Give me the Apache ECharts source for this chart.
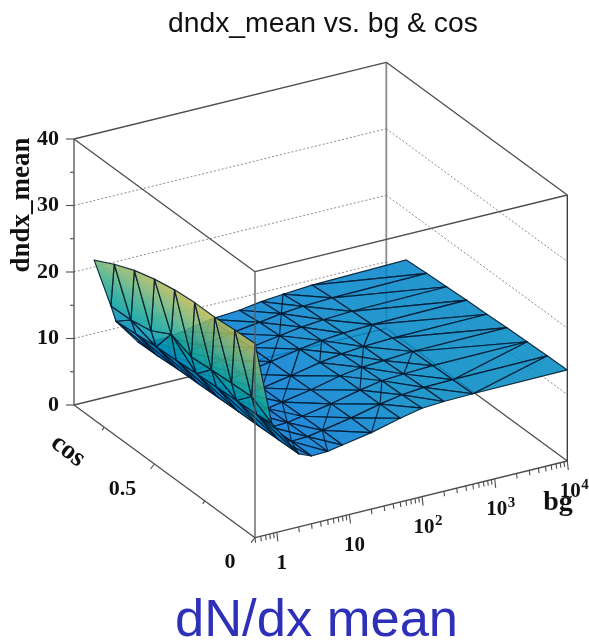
<!DOCTYPE html>
<html>
<head>
<meta charset="utf-8">
<style>html,body{margin:0;padding:0;background:#fff}#c{width:589px;height:643px}</style>
<script src="https://cdn.jsdelivr.net/npm/echarts@6/dist/echarts.min.js"></script>
</head>
<body>
<div id="c"></div>
<script>
const bgValues = [0.5, 0.85, 1, 2, 3, 5, 8, 20, 50, 100, 200, 500, 10000];
const cosValues = [0, 0.1, 0.2, 0.3, 0.4, 0.5, 0.6, 0.7, 0.8];
const dndxRow0 = [29.2, 16.6, 15.5, 11.0, 10.2, 10.3, 10.7, 11.5, 12.6, 13.3, 13.5, 13.6, 13.7];
const dndxRow1 = [29.0, 18.4, 15.5, 10.9, 10.2, 10.3, 10.7, 11.5, 12.5, 13.1, 13.4, 13.5, 13.6];
const dndxRow2 = [28.7, 18.2, 15.4, 10.8, 10.1, 10.2, 10.6, 11.4, 12.4, 13.0, 13.2, 13.4, 13.5];
const dndxRow3 = [28.7, 18.0, 15.2, 10.7, 10.0, 10.1, 10.5, 11.3, 12.3, 12.8, 13.0, 13.3, 13.4];
const dndxRow4 = [28.4, 17.7, 15.0, 10.6, 9.9, 10.0, 10.4, 11.2, 12.1, 12.6, 12.9, 13.1, 13.2];
const dndxRow5 = [27.8, 18.9, 14.8, 10.5, 9.8, 9.9, 10.3, 11.1, 11.9, 12.4, 12.7, 12.9, 13.1];
const dndxRow6 = [26.9, 17.2, 14.6, 10.4, 9.7, 9.8, 10.2, 11.0, 11.7, 12.2, 12.5, 12.7, 12.9];
const dndxRow7 = [25.6, 16.6, 14.3, 10.2, 9.6, 9.7, 10.1, 10.9, 11.5, 12.0, 12.3, 12.5, 12.7];
const dndxRow8 = [24.0, 16.5, 14.0, 10.1, 9.6, 9.7, 10.0, 10.8, 11.1, 11.6, 11.9, 12.2, 12.5];
const dndx = [dndxRow0, dndxRow1, dndxRow2, dndxRow3, dndxRow4, dndxRow5, dndxRow6, dndxRow7, dndxRow8];
// Triangulation: one string per cos row, one letter per bg cell (x = both diagonals drawn)
const cellSplit = [
  'aabxbxbxbbba',
  'aabbxbxbxbba',
  'abbxbxbbxbxb',
  'aabbxbxbbxbb',
  'abbxbbxaxbab',
  'aabbxxbxbbbb',
  'abbxbxbbxbbb',
  'aabbxbxbbxbb'
];
const zMajorTicks = [0, 10, 20, 30, 40];
const zMinorTicks = [5, 15, 25, 35];
const zGridValues = [10, 20, 30];
const cosMajorTicks = [0, 0.5];
const cosMinorTicks = [0.25, 0.75];
const cosTickLabels = ['0', '0.5'];
const bgMajorTicks = [1, 10, 100, 1000, 10000];
const bgMinorTicks = [0.5, 0.6, 0.7, 0.8, 0.9, 2, 3, 4, 5, 6, 7, 8, 9, 20, 30, 40, 50, 60, 70, 80, 90, 200, 300, 400, 500, 600, 700, 800, 900, 2000, 3000, 4000, 5000, 6000, 7000, 8000, 9000];
const bgTickBase = ['1', '10', '10', '10', '10'];
const bgTickExp = ['', '', '2', '3', '4'];
const bgRange = [0.5, 10000], cosRange = [0, 0.9], zRange = [0, 40];
const titleText = 'dndx_mean vs. bg & cos';
const captionText = 'dN/dx mean';
const zTitle = 'dndx_mean', cosTitle = 'cos', bgTitle = 'bg';

// View: oblique projection of the box into the page plane
const view = { ox: 255, oy: 537.7, bgDx: 312.3, bgDy: -76.7, cosDx: -181, cosDy: -132.7, zDy: -266 };
function project(bg, cos, z) {
  const f = (Math.log10(bg) - Math.log10(bgRange[0])) / (Math.log10(bgRange[1]) - Math.log10(bgRange[0]));
  const c = (cos - cosRange[0]) / (cosRange[1] - cosRange[0]);
  const h = (z - zRange[0]) / (zRange[1] - zRange[0]);
  return [view.ox + f * view.bgDx + c * view.cosDx, view.oy + f * view.bgDy + c * view.cosDy + h * view.zDy];
}
const paletteStops = [
  [9, [0, 112, 215]], [12, [0, 130, 205]], [15, [0, 142, 185]], [18, [10, 162, 156]],
  [21, [50, 172, 140]], [24, [110, 179, 121]], [28, [179, 185, 86]], [30, [200, 185, 60]]
];
const surfaceAlpha = 0.86;
function paletteColor(z) {
  let i = 0;
  while (i < paletteStops.length - 2 && z > paletteStops[i + 1][0]) i++;
  const a = paletteStops[i], b = paletteStops[i + 1];
  const t = Math.max(0, Math.min(1, (z - a[0]) / (b[0] - a[0])));
  const c = a[1].map((v, n) => Math.round(v + (b[1][n] - v) * t));
  return 'rgba(' + c[0] + ',' + c[1] + ',' + c[2] + ',' + surfaceAlpha + ')';
}
// Far-to-near mesh list: triangles, plus the extra diagonal of crossed cells
const mesh = [];
for (let j = bgValues.length - 2; j >= 0; j--) {
  for (let k = cosValues.length - 2; k >= 0; k--) {
    const p00 = [j, k], p10 = [j + 1, k], p01 = [j, k + 1], p11 = [j + 1, k + 1];
    const kind = cellSplit[k][j];
    if (kind === 'a') {
      mesh.push({ tri: [p10, p11, p00] }, { tri: [p11, p01, p00] });
    } else {
      mesh.push({ tri: [p11, p01, p10] }, { tri: [p01, p00, p10] });
      if (kind === 'x') mesh.push({ line: [p00, p11] });
    }
  }
}
const zMax = zRange[1], bgMax = bgRange[1], bgMin = bgRange[0], cosMax = cosRange[1], cosMin = cosRange[0];
const edge = '#4d4d4d';
const backSegments = [
  { a: [bgMin, cosMax, 0], b: [bgMax, cosMax, 0], color: edge, w: 1.3 },
  { a: [bgMax, cosMax, 0], b: [bgMax, cosMin, 0], color: edge, w: 1.3 },
  { a: [bgMax, cosMax, 0], b: [bgMax, cosMax, zMax], color: '#8c8c8c', w: 1.8 }
];
zGridValues.forEach(z => {
  backSegments.push({ a: [bgMin, cosMax, z], b: [bgMax, cosMax, z], color: '#94898a', w: 1, dash: [2, 2] });
  backSegments.push({ a: [bgMax, cosMax, z], b: [bgMax, cosMin, z], color: '#94898a', w: 1, dash: [2, 2] });
});
const frontSegments = [
  { a: [bgMin, cosMin, 0], b: [bgMax, cosMin, 0], color: edge, w: 1.3 },
  { a: [bgMin, cosMin, 0], b: [bgMin, cosMax, 0], color: edge, w: 1.3 },
  { a: [bgMin, cosMax, 0], b: [bgMin, cosMax, zMax], color: edge, w: 1.3 },
  { a: [bgMin, cosMin, 0], b: [bgMin, cosMin, zMax], color: '#5a5a5a', w: 1.3 },
  { a: [bgMax, cosMin, 0], b: [bgMax, cosMin, zMax], color: '#333', w: 1.3 },
  { a: [bgMin, cosMax, zMax], b: [bgMax, cosMax, zMax], color: edge, w: 1.3 },
  { a: [bgMax, cosMax, zMax], b: [bgMax, cosMin, zMax], color: edge, w: 1.3 },
  { a: [bgMin, cosMin, zMax], b: [bgMax, cosMin, zMax], color: edge, w: 1.3 },
  { a: [bgMin, cosMin, zMax], b: [bgMin, cosMax, zMax], color: edge, w: 1.3 }
];
const ticks = [];
zMajorTicks.forEach(z => ticks.push({ at: [bgMin, cosMax, z], d: [-8, 0] }));
zMinorTicks.forEach(z => ticks.push({ at: [bgMin, cosMax, z], d: [-4, 0] }));
bgMajorTicks.forEach(b => ticks.push({ at: [b, cosMin, 0], d: [1, 9] }));
bgMinorTicks.forEach(b => ticks.push({ at: [b, cosMin, 0], d: [0.6, 5] }));
cosMajorTicks.forEach(c => ticks.push({ at: [bgMin, c, 0], d: [-4, 5] }));
cosMinorTicks.forEach(c => ticks.push({ at: [bgMin, c, 0], d: [-2, 3] }));

const bgLabelShift = [5, 5, 2, 2, 3];
const cosLabelShift = [-25, -32];
const labels = [];
zMajorTicks.forEach(z => labels.push({ at: [bgMin, cosMax, z], d: [-15, 0], text: String(z), align: 'right', size: 22 }));
cosMajorTicks.forEach((c, i) => labels.push({ at: [bgMin, c, 0], d: [cosLabelShift[i], 25], text: cosTickLabels[i], align: 'center', size: 22 }));
bgMajorTicks.forEach((b, i) => labels.push({ at: [b, cosMin, 0], d: [bgLabelShift[i], 31], text: bgTickBase[i], exp: bgTickExp[i], align: 'center', size: 21 }));

const page = [
  { pos: [22, 205], text: zTitle, rot: Math.PI / 2, size: 27 },
  { pos: [68, 451], text: cosTitle, rot: -38 * Math.PI / 180, size: 27 },
  { pos: [558, 503], text: bgTitle, rot: 0, size: 28 }
];
const serif = '"Liberation Serif","Times New Roman",serif';
const meshStroke = 'rgba(4,28,50,0.9)';

function frameItem(list) {
  return function (p, api) {
    const s = list[p.dataIndex];
    const a = api.coord(project(s.a[0], s.a[1], s.a[2]));
    const b = api.coord(project(s.b[0], s.b[1], s.b[2]));
    return { type: 'line', shape: { x1: a[0], y1: a[1], x2: b[0], y2: b[1] },
      style: { stroke: s.color, lineWidth: s.w, lineDash: s.dash || null, fill: null } };
  };
}
function vertex(api, v) {
  return api.coord(project(bgValues[v[0]], cosValues[v[1]], dndx[v[1]][v[0]]));
}
function surfaceItem(p, api) {
  const m = mesh[p.dataIndex];
  if (m.line) {
    const a = vertex(api, m.line[0]), b = vertex(api, m.line[1]);
    return { type: 'line', shape: { x1: a[0], y1: a[1], x2: b[0], y2: b[1] },
      style: { stroke: meshStroke, lineWidth: 1.2, fill: null } };
  }
  const t = m.tri;
  const pts = t.map(v => vertex(api, v));
  const zs = t.map(v => dndx[v[1]][v[0]]);
  const ux = pts[1][0] - pts[0][0], uy = pts[1][1] - pts[0][1];
  const vx = pts[2][0] - pts[0][0], vy = pts[2][1] - pts[0][1];
  const dz1 = zs[1] - zs[0], dz2 = zs[2] - zs[0];
  const det = ux * vy - uy * vx;
  let fill = paletteColor((zs[0] + zs[1] + zs[2]) / 3);
  const gx = det ? (dz1 * vy - dz2 * uy) / det : 0;
  const gy = det ? (ux * dz2 - vx * dz1) / det : 0;
  const g2 = gx * gx + gy * gy;
  const lo = Math.min.apply(null, zs), hi = Math.max.apply(null, zs);
  if (g2 > 1e-9 && hi - lo > 0.05) {
    const q = pts[zs.indexOf(lo)];
    const stops = [];
    for (let i = 0; i <= 6; i++) stops.push({ offset: i / 6, color: paletteColor(lo + (hi - lo) * i / 6) });
    fill = new echarts.graphic.LinearGradient(q[0], q[1], q[0] + gx / g2 * (hi - lo), q[1] + gy / g2 * (hi - lo), stops, true);
  }
  return { type: 'polygon', shape: { points: pts },
    style: { fill: fill, stroke: meshStroke, lineWidth: 1.2, lineJoin: 'round' } };
}
function tickItem(p, api) {
  const s = ticks[p.dataIndex];
  const a = api.coord(project(s.at[0], s.at[1], s.at[2]));
  return { type: 'line', shape: { x1: a[0], y1: a[1], x2: a[0] + s.d[0], y2: a[1] + s.d[1] },
    style: { stroke: edge, lineWidth: 1.1, fill: null } };
}
function labelItem(p, api) {
  const s = labels[p.dataIndex];
  const a = api.coord(project(s.at[0], s.at[1], s.at[2]));
  const x = a[0] + s.d[0], y = a[1] + s.d[1];
  const children = [{ type: 'text', x: x, y: y, style: { text: s.text, font: 'bold ' + s.size + 'px ' + serif, fill: '#111', textAlign: s.align, textVerticalAlign: 'middle' } }];
  if (s.exp) children.push({ type: 'text', x: x + 11, y: y - 7, style: { text: s.exp, font: 'bold 15px ' + serif, fill: '#111', textAlign: 'left', textVerticalAlign: 'middle' } });
  return { type: 'group', children: children };
}
function pageItem(p, api) {
  const s = page[p.dataIndex];
  const a = api.coord(s.pos);
  return { type: 'text', x: a[0], y: a[1], rotation: s.rot, originX: 0, originY: 0,
    style: { text: s.text, font: 'bold ' + s.size + 'px ' + serif, fill: '#111', textAlign: 'center', textVerticalAlign: 'middle' } };
}
function customSeries(list, render, z) {
  return { type: 'custom', coordinateSystem: 'cartesian2d', clip: false, silent: true, animation: false, z: z,
    renderItem: render, data: list.map((_, i) => [i]), encode: { x: -1, y: -1 } };
}
const chart = echarts.init(document.getElementById('c'), null, { renderer: 'canvas' });
chart.setOption({
  animation: false,
  backgroundColor: '#fff',
  title: [
    { text: titleText, left: 168, top: 10, padding: 0, textStyle: { fontFamily: '"Liberation Sans",Arial,sans-serif', fontSize: 28.3, fontWeight: 'normal', color: '#111' } },
    { text: captionText, left: 175, top: 595, padding: 0, textStyle: { fontFamily: '"Liberation Sans",Arial,sans-serif', fontSize: 52.5, fontWeight: 'normal', color: '#2e30b8' } }
  ],
  grid: { left: 0, right: 0, top: 0, bottom: 0 },
  xAxis: { type: 'value', min: 0, max: 589, show: false },
  yAxis: { type: 'value', min: 0, max: 643, inverse: true, show: false },
  series: [
    customSeries(backSegments, frameItem(backSegments), 1),
    customSeries(mesh, surfaceItem, 2),
    customSeries(frontSegments, frameItem(frontSegments), 3),
    customSeries(ticks, tickItem, 3),
    customSeries(labels, labelItem, 4),
    customSeries(page, pageItem, 4)
  ]
});
</script>
</body>
</html>
